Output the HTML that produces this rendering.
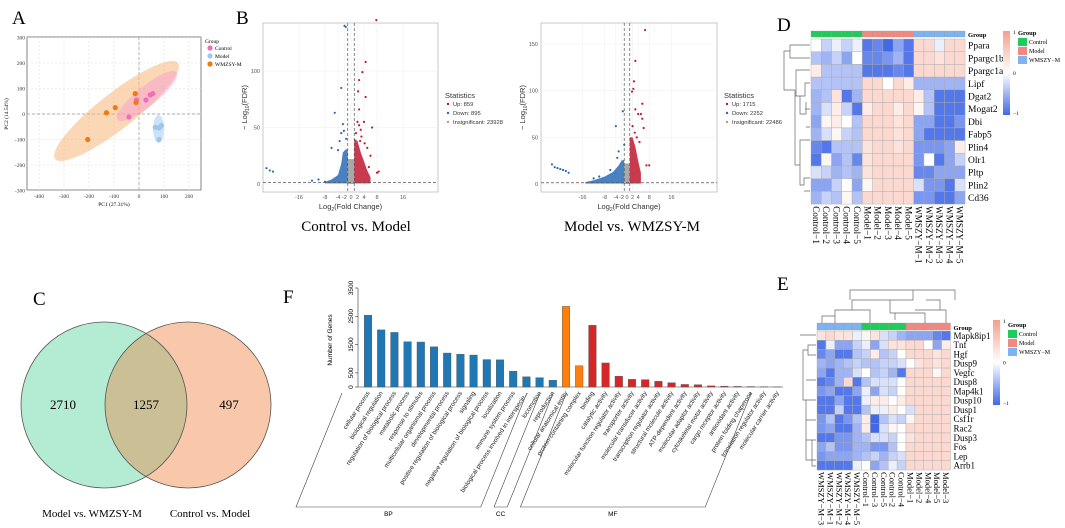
<!DOCTYPE html>
<html><head><meta charset="utf-8">
<style>
html,body{margin:0;padding:0;background:#fff;}
svg{display:block;font-family:"Liberation Sans",sans-serif;}
.serif{font-family:"Liberation Serif",serif;}
</style></head>
<body>
<svg id="fig" width="1065" height="528" viewBox="0 0 1065 528" xmlns="http://www.w3.org/2000/svg">
<defs>
<clipPath id="clipGreen"><circle cx="104" cy="405" r="83"/></clipPath>
</defs>
<text class="serif" x="12" y="24" font-size="19">A</text>
<text class="serif" x="236" y="24" font-size="19">B</text>
<text class="serif" x="777" y="31" font-size="19">D</text>
<text class="serif" x="33" y="305" font-size="19">C</text>
<text class="serif" x="283" y="303" font-size="19">F</text>
<text class="serif" x="777" y="290" font-size="19">E</text>

<g id="pca"></g>
<g id="vol1"></g>
<g id="vol2"></g>
<text class="serif" x="356" y="231" font-size="15" text-anchor="middle">Control vs. Model</text>
<text class="serif" x="632" y="231" font-size="15" text-anchor="middle">Model vs. WMZSY-M</text>

<g id="venn">
  <circle cx="104" cy="405" r="83" fill="#b3ecd3"/>
  <circle cx="188" cy="405" r="83" fill="#f9c8ab"/>
  <circle cx="188" cy="405" r="83" fill="#cbc095" clip-path="url(#clipGreen)"/>
  <circle cx="104" cy="405" r="83" fill="none" stroke="#555" stroke-width="0.8"/>
  <circle cx="188" cy="405" r="83" fill="none" stroke="#555" stroke-width="0.8"/>
  <text class="serif" x="63" y="409" font-size="13" text-anchor="middle">2710</text>
  <text class="serif" x="146" y="409" font-size="13" text-anchor="middle">1257</text>
  <text class="serif" x="229" y="409" font-size="13" text-anchor="middle">497</text>
  <text class="serif" x="92" y="517" font-size="11" text-anchor="middle">Model vs. WMZSY-M</text>
  <text class="serif" x="210" y="517" font-size="11" text-anchor="middle">Control vs. Model</text>
</g>

<g id="gobar"></g>
<g id="heatD"></g>
<g id="heatE"></g>
</svg>

<script>
const NS="http://www.w3.org/2000/svg";
function mk(parent,tag,attrs,text){const e=document.createElementNS(NS,tag);for(const k in attrs)e.setAttribute(k,attrs[k]);if(text!==undefined)e.textContent=text;parent.appendChild(e);return e;}

const pcaControlX=[-10,45,55,28,-40];
const pcaControlY=[55,75,80,55,-12];
const pcaModelX=[65,80,90,80,85];
const pcaModelY=[-52,-55,-45,-100,-50];
const pcaWmzX=[-15,-12,-95,-130,-205];
const pcaWmzY=[80,45,25,5,-100];
const pcaTicksX=[-400,-300,-200,-100,0,100,200];
const pcaTicksY=[-300,-200,-100,0,100,200,300];

const v1UpX=[7.8,4.5,3.5,2.5,2.2,4.5,2.5,4,6.5,2.5,5,6,8.5,8,3.2,2.8,5.5,3,4.2,2,1.5];
const v1UpY=[145,108,99,92,82,77,66,55,50,52,32,25,11,10,42,38,15,48,36,55,45];
const v1DownX=[-2,-1.6,-3,-5,-2.5,-3,-6,-26,-25,-24,-10,-12,-8,-4,-3.5,-2.2,-1.5];
const v1DownY=[140,139,85,63,53,45,32,14,12,11,4,3,2,30,38,47,40];
const v1CloudDownX=[-1,-1,-1.5,-2.5,-3,-4,-6,-8,-8,-1];
const v1CloudDownY=[1,30,31,28,18,8,4,2,0.5,0.5];
const v1CloudUpX=[1,1,2,3,4,5,6,6,1];
const v1CloudUpY=[1,40,38,28,20,12,6,0.5,0.5];
const v1Ticks=[-16,-8,-4,-2,0,2,4,8,16];
const v1YTicks=[0,50,100];

const v2UpX=[6.5,3,2.5,2.3,1.8,3,5.5,4,5,5.5,6,8,7,4.5,3.5,2,2.8];
const v2UpY=[165,132,110,102,99,80,86,75,75,70,60,20,20,45,50,62,55];
const v2DownX=[-1.5,-4,-3,-1,-27,-26,-25,-24,-23,-22,-21,-6,-10,-12,-3.5];
const v2DownY=[78,62,35,42,21,18,17,16,15,14,12,15,8,6,28];
const v2CloudDownX=[-1,-1,-2,-3,-5,-8,-12,-15,-15,-1];
const v2CloudDownY=[1,26,25,20,13,8,4,2,0.5,0.5];
const v2CloudUpX=[1,1,2,3,4,5,5,1];
const v2CloudUpY=[1,50,50,40,25,12,0.5,0.5];
const v2Ticks=[-16,-8,-4,-2,0,2,4,8,16];
const v2YTicks=[0,50,100,150];

const goTerms=["cellular process","biological regulation","regulation of biological process","metabolic process","response to stimulus","multicellular organismal process","developmental process","positive regulation of biological process","signaling","negative regulation of biological process","localization","immune system process","biological process involved in interspecie...","locomotion","reproduction","cellular anatomical entity","protein-containing complex","binding","catalytic activity","molecular function regulator activity","transporter activity","molecular transducer activity","transcription regulator activity","structural molecule activity","ATP-dependent activity","molecular adaptor activity","cytoskeletal motor activity","cargo receptor activity","antioxidant activity","protein folding chaperone","translation regulator activity","molecular carrier activity"];
const goCounts=[2540,2020,1930,1600,1590,1420,1200,1160,1130,970,960,560,360,330,240,2850,750,2180,850,380,270,260,200,150,90,80,40,30,20,15,10,5];
const goCategory=["BP","BP","BP","BP","BP","BP","BP","BP","BP","BP","BP","BP","BP","BP","BP","CC","CC","MF","MF","MF","MF","MF","MF","MF","MF","MF","MF","MF","MF","MF","MF","MF"];
const goYTicks=[0,500,1500,2500,3500];

const dRows=["Ppara","Ppargc1b","Ppargc1a","Lipf","Dgat2","Mogat2","Dbi","Fabp5","Plin4","Olr1","Pltp","Plin2","Cd36"];
const dCols=["Control−1","Control−2","Control−3","Control−4","Control−5","Model−1","Model−2","Model−3","Model−4","Model−5","WMSZY−M−1","WMSZY−M−2","WMSZY−M−3","WMSZY−M−4","WMSZY−M−5"];
const dGroups=["C","C","C","C","C","M","M","M","M","M","W","W","W","W","W"];
const dVals=[
[0,-0.3,-0.1,-0.3,-0.1,-0.9,-0.8,-1,-0.6,-0.9,0.4,0.4,-0.1,0.4,0.4],
[-0.4,-0.5,-0.3,-0.6,0,-0.8,-0.8,-0.7,-0.5,-0.9,0.4,0.4,0.3,0.4,0.4],
[0.2,-0.4,-0.4,-0.4,-0.4,-0.9,-0.9,-0.9,-0.8,-0.9,0.4,0.4,0.4,0.4,0.4],
[-0.4,-0.4,-0.4,-0.4,-0.4,0.4,0.4,0,0.4,0.2,-0.5,-0.5,-0.5,-0.5,-0.5],
[-0.5,-0.4,0.3,-0.9,-0.5,0.4,0.4,0.4,0.4,0.4,0.2,-0.4,-0.9,-0.9,-0.9],
[-0.5,-0.2,0.2,-0.3,-0.9,0.2,0.4,0.4,0.2,0.4,0.1,-0.4,-0.9,-0.9,-0.9],
[-0.6,0.1,0.2,0,-0.4,0.4,0.4,0.4,0.3,0.4,-0.6,-0.6,-0.9,-0.9,-0.7],
[-0.5,-0.2,0.1,-0.3,-0.4,0.4,0.4,0.4,0.3,0.4,-0.6,-0.9,-0.9,-0.9,-0.9],
[-0.8,-0.9,-0.4,-0.4,-0.4,0.3,0.4,0.4,0.3,0.4,-0.7,-0.7,-0.7,-0.6,0.2],
[-0.9,0.1,-0.6,-0.4,-0.8,0.3,0.4,0.4,0.4,0.4,-0.7,0,-0.9,-0.6,-0.3],
[-0.2,-0.3,-0.5,-0.4,-0.5,0.3,0.4,0.4,0.4,0.4,-0.8,-0.8,-0.6,-0.6,-0.6],
[-0.6,-0.6,-0.3,0,-0.6,0.1,0.4,0.4,0.4,0.4,-0.2,-0.7,-0.7,-0.9,-0.2],
[-0.5,-0.3,-0.4,0.1,-0.4,0.4,0.4,0.4,0.4,0.4,-0.7,-0.7,-0.9,-0.9,-0.6]];

const eRows=["Mapk8ip1","Tnf","Hgf","Dusp9","Vegfc","Dusp8","Map4k1","Dusp10","Dusp1","Csf1r","Rac2","Dusp3","Fos","Lep","Arrb1"];
const eCols=["WMSZY−M−3","WMSZY−M−1","WMSZY−M−2","WMSZY−M−4","WMSZY−M−5","Control−1","Control−3","Control−5","Control−2","Control−4","Model−1","Model−2","Model−4","Model−5","Model−3"];
const eGroups=["W","W","W","W","W","C","C","C","C","C","M","M","M","M","M"];
const eVals=[
[0.3,0.4,0.3,0.3,-0.1,0.1,0.3,-0.2,-0.3,-0.5,-0.6,-0.6,-0.6,-0.8,-0.9],
[-0.9,-0.1,-0.6,-0.6,-0.3,-0.1,-0.6,-0.2,0.3,0.3,0.4,0.4,0,-0.6,0.2],
[-0.8,-0.6,-0.9,-0.9,-0.4,-0.3,0.2,-0.4,-0.3,0,0.4,0.4,0.4,0.3,0.4],
[-0.5,-0.6,-0.5,-0.4,-0.3,-0.4,-0.4,-0.3,-0.3,-0.2,0,0.3,0.4,0.3,0.4],
[-0.6,-0.9,-0.5,-0.5,-0.2,0,-0.4,-0.3,-0.5,-0.9,0.4,0.4,0.4,0.1,0.4],
[-0.9,-0.8,-0.5,0.4,-0.9,-0.4,-0.2,-0.2,-0.2,0,0.4,0.4,0.4,0.4,0.4],
[-0.7,-0.6,-0.9,-0.9,-0.6,-0.1,-0.6,-0.2,-0.3,0,0.4,0.4,0.4,0.4,0.4],
[-0.9,-0.9,-0.6,-0.9,-0.9,-0.1,0.2,0.2,0,0.2,0.4,0.4,0.4,0.4,0.4],
[-0.9,-0.9,-0.3,-0.9,-0.9,-0.4,-0.1,-0.1,0.2,0,-0.2,0.4,0.4,0.4,0.4],
[-0.7,-0.4,-0.9,-0.7,-0.4,0.2,-1,-0.4,-0.2,-0.3,0.1,0.4,0.4,0.4,0.4],
[-0.7,-0.6,-0.9,-0.9,-0.5,0.2,-1,-0.2,0.1,0,0.4,0.4,0.4,0.4,0.4],
[-0.9,-0.9,-0.7,-0.7,-0.5,-0.4,-0.2,-0.2,-0.3,0,0.3,0.4,0.4,0.4,0.4],
[-0.6,-0.4,-0.7,-0.7,-0.5,-0.5,-0.7,-0.7,-0.4,0,0.4,0.4,0.4,0.4,0.4],
[-0.7,-0.6,-0.6,-0.6,-0.5,-0.4,-0.3,-0.5,-0.3,-0.2,0.4,0.4,0.4,0.4,0.4],
[-0.9,-0.9,-0.9,-0.9,-0.1,0,-0.6,-0.4,-0.1,-0.3,0.4,0.4,0.4,0.4,0.4]];

const grpColor={C:"#1fcb5a",M:"#f08a80",W:"#7fb2f0"};

(function(){
  const g=document.getElementById('pca');
  const x0=27,x1=201,y0=37,y1=190;
  const sx=v=>139+v*0.25, sy=v=>114-v*0.255;
  mk(g,'rect',{x:x0,y:y0,width:x1-x0,height:y1-y0,fill:'#fff',stroke:'#333','stroke-width':0.6});
  pcaTicksX.forEach(t=>{mk(g,'line',{x1:sx(t),x2:sx(t),y1:y0,y2:y1,stroke:'#ddd','stroke-dasharray':'2,2','stroke-width':0.6});
    mk(g,'text',{x:sx(t),y:y1+8,'font-size':5.5,'text-anchor':'middle',fill:'#333',class:'serif'},String(t));});
  pcaTicksY.forEach(t=>{mk(g,'line',{x1:x0,x2:x1,y1:sy(t),y2:sy(t),stroke:'#ddd','stroke-dasharray':'2,2','stroke-width':0.6});
    mk(g,'text',{x:x0-2,y:sy(t)+2,'font-size':5.5,'text-anchor':'end',fill:'#333',class:'serif'},String(t));});
  mk(g,'line',{x1:sx(0),x2:sx(0),y1:y0,y2:y1,stroke:'#999','stroke-dasharray':'3,2','stroke-width':0.7});
  mk(g,'line',{x1:x0,x2:x1,y1:sy(0),y2:sy(0),stroke:'#999','stroke-dasharray':'3,2','stroke-width':0.7});
  const e1=mk(g,'ellipse',{cx:116.5,cy:111,rx:78,ry:18,fill:'#f8b77a','fill-opacity':0.55,transform:'rotate(-38 116.5 111)'});
  
  const e2=mk(g,'ellipse',{cx:147,cy:96,rx:38,ry:10,fill:'#f49ad0','fill-opacity':0.45,transform:'rotate(-39 147 96)'});
  
  const e3=mk(g,'ellipse',{cx:158.5,cy:129,rx:5.5,ry:14,fill:'#a8cff5','fill-opacity':0.6});
  
  const draw=(xs,ys,col,name)=>xs.forEach((v,i)=>{const c=mk(g,'circle',{cx:sx(v),cy:sy(ys[i]),r:2.6,fill:col});
    });
  draw(pcaControlX,pcaControlY,'#f06cbc','pca-point-control');
  draw(pcaModelX,pcaModelY,'#9cc8f0','pca-point-model');
  draw(pcaWmzX,pcaWmzY,'#f07a10','pca-point-wmzsy');
  mk(g,'text',{x:114,y:206,'font-size':5.5,'text-anchor':'middle',class:'serif'},'PC1 (27.31%)');
  mk(g,'text',{x:8,y:114,'font-size':5.5,'text-anchor':'middle',class:'serif',transform:'rotate(-90 8 114)'},'PC2 (14.54%)');
  mk(g,'text',{x:205,y:43,'font-size':5.5,class:'serif'},'Group');
  [['Control','#f06cbc'],['Model','#9cc8f0'],['WMZSY-M','#f07a10']].forEach((d,i)=>{
    mk(g,'circle',{cx:210,cy:48+i*8,r:2.6,fill:d[1]});
    mk(g,'text',{x:215,y:50+i*8,'font-size':5.5,class:'serif'},d[0]);});
})();

function volcano(id,box,zeroX,kx,kyPer,xt,yt,upX,upY,dnX,dnY,cdX,cdY,cuX,cuY,stats){
  const g=document.getElementById(id);
  const [x0,y0,x1,y1]=box; const yZero=184;
  const sx=v=>zeroX+v*kx, sy=v=>yZero-v*kyPer;
  mk(g,'rect',{x:x0,y:y0,width:x1-x0,height:y1-y0,fill:'#fff',stroke:'#bbb','stroke-width':0.8});
  xt.forEach(t=>{mk(g,'line',{x1:sx(t),x2:sx(t),y1:y0,y2:y1,stroke:'#eee','stroke-width':0.5});
    mk(g,'text',{x:sx(t),y:y1+7,'font-size':5.5,'text-anchor':'middle',fill:'#555'},String(t));});
  yt.forEach(t=>{mk(g,'line',{x1:x0,x2:x1,y1:sy(t),y2:sy(t),stroke:'#eee','stroke-width':0.5});
    mk(g,'text',{x:x0-3,y:sy(t)+2,'font-size':5.5,'text-anchor':'end',fill:'#555'},String(t));});
  const poly=(xs,ys,col,op)=>mk(g,'polygon',{points:xs.map((v,i)=>sx(v)+','+sy(ys[i])).join(' '),fill:col,'fill-opacity':op});
  poly([-1,-1,1,1],[0,22,22,0],'#a0a0a0',0.9);
  poly(cdX,cdY,'#2a6bb5',0.85); poly(cuX,cuY,'#c01830',0.85);
  upX.forEach((v,i)=>{const c=mk(g,'circle',{cx:sx(v),cy:sy(upY[i]),r:1.1,fill:'#c01830'});
    });
  dnX.forEach((v,i)=>{const c=mk(g,'circle',{cx:sx(v),cy:sy(dnY[i]),r:1.1,fill:'#2a6bb5'});
    });
  [-1,1].forEach(t=>mk(g,'line',{x1:sx(t),x2:sx(t),y1:y0,y2:y1,stroke:'#555','stroke-dasharray':'3,2','stroke-width':0.7}));
  mk(g,'line',{x1:x0,x2:x1,y1:sy(1.3),y2:sy(1.3),stroke:'#555','stroke-dasharray':'3,2','stroke-width':0.7});
  const cx=(x0+x1)/2;
  const xl=mk(g,'text',{x:cx,y:y1+17,'font-size':7.5,'text-anchor':'middle',fill:'#333'});
  xl.innerHTML='Log<tspan font-size="5" dy="2">2</tspan><tspan dy="-2">(Fold Change)</tspan>';
  const yl=mk(g,'text',{x:x0-16,y:(y0+y1)/2,'font-size':7.5,'text-anchor':'middle',fill:'#333',transform:`rotate(-90 ${x0-16} ${(y0+y1)/2})`});
  yl.innerHTML='− Log<tspan font-size="5" dy="2">10</tspan><tspan dy="-2">(FDR)</tspan>';
  const lx=x1+7;
  mk(g,'text',{x:lx,y:98,'font-size':7.5,fill:'#333'},'Statistics');
  [['#c01830',stats[0]],['#2a6bb5',stats[1]],['#a0a0a0',stats[2]]].forEach((d,i)=>{
    mk(g,'circle',{cx:lx+3,cy:104+i*9,r:1.2,fill:d[0]});
    mk(g,'text',{x:lx+8,y:106+i*9,'font-size':5.8,fill:'#333'},d[1]);});
}
volcano('vol1',[263,23,438,192],351,3.25,1.13,v1Ticks,v1YTicks,v1UpX,v1UpY,v1DownX,v1DownY,v1CloudDownX,v1CloudDownY,v1CloudUpX,v1CloudUpY,['Up: 859','Down: 895','Insignificant: 23928']);
volcano('vol2',[541,23,717,192],627,2.78,0.933,v2Ticks,v2YTicks,v2UpX,v2UpY,v2DownX,v2DownY,v2CloudDownX,v2CloudDownY,v2CloudUpX,v2CloudUpY,['Up: 1715','Down: 2252','Insignificant: 22486']);

(function(){
  const g=document.getElementById('gobar');
  const axX=358, base=387, k=(387-288)/3500, first=368, step=13.2;
  const sy=v=>base-v*k, sx=i=>first+i*step;
  const colors={BP:'#1f77b4',CC:'#ff7f0e',MF:'#d62728'};
  mk(g,'line',{x1:axX,x2:axX,y1:sy(0),y2:sy(3500),stroke:'#333','stroke-width':0.6});
  goYTicks.forEach(t=>{mk(g,'line',{x1:axX-3,x2:axX,y1:sy(t),y2:sy(t),stroke:'#333','stroke-width':0.6});
    mk(g,'text',{x:axX-5,y:sy(t),'font-size':6.5,'text-anchor':'middle',transform:`rotate(-90 ${axX-5} ${sy(t)})`},String(t));});
  mk(g,'text',{x:332,y:340,'font-size':6.5,'text-anchor':'middle',transform:'rotate(-90 332 340)'},'Number of Genes');
  mk(g,'line',{x1:axX,x2:sx(goCounts.length-1)+6,y1:base,y2:base,stroke:'#333','stroke-width':0.6});
  goCounts.forEach((v,i)=>{
    const b=mk(g,'rect',{x:sx(i)-3.8,y:sy(v),width:7.6,height:base-sy(v),fill:colors[goCategory[i]],stroke:'#555','stroke-width':0.4});
    
    mk(g,'text',{x:sx(i)+2,y:base+6,'font-size':6.3,'text-anchor':'end',fill:'#222',transform:`rotate(-57 ${sx(i)+2} ${base+6})`},goTerms[i]);
  });
  const grp=(a,b,lbl)=>{
    const fA=sx(a)-26, fB=sx(b)-26;
    const bx0=fA-46, bx1=fB-46;
    mk(g,'polyline',{points:`${fA},${base+6} ${bx0},507 ${bx1},507 ${fB},${base+6}`,fill:'none',stroke:'#444','stroke-width':0.6});
    mk(g,'text',{x:(bx0+bx1)/2,y:516,'font-size':6.5,'text-anchor':'middle'},lbl);
  };
  grp(0,14,'BP'); grp(15,16,'CC'); grp(17,31,'MF');
})();

function heatColor(v){
  const c0=[65,105,230],c1=[255,255,255],c2=[244,160,138];
  const t=Math.max(-1,Math.min(1,v));
  const a=t<0?c0:c2, w=Math.abs(t);
  return 'rgb('+[0,1,2].map(j=>Math.round(c1[j]+(a[j]-c1[j])*w)).join(',')+')';
}
function heatmap(id,rows,cols,groups,vals,X0,Y0,cw,ch,gbY,gbH,fs,cfs,lgX,lgY,lgH,glX,glY){
  const g=document.getElementById(id);
  groups.forEach((gr,j)=>mk(g,'rect',{x:X0+j*cw,y:gbY,width:cw,height:gbH,fill:grpColor[gr],stroke:'#999','stroke-width':0.3}));
  mk(g,'text',{x:X0+cols.length*cw+3,y:gbY+gbH,'font-size':6.5,'font-weight':'bold',class:'serif'},'Group');
  vals.forEach((row,i)=>row.forEach((v,j)=>{
    const r=mk(g,'rect',{x:X0+j*cw,y:Y0+i*ch,width:cw,height:ch,fill:heatColor(v),stroke:'#aaa','stroke-width':0.4});
    
  }));
  rows.forEach((r,i)=>mk(g,'text',{x:X0+cols.length*cw+3,y:Y0+i*ch+ch/2+fs*0.35,'font-size':fs,class:'serif'},r));
  cols.forEach((c,j)=>{const x=X0+j*cw+cw/2-cfs*0.35,y=Y0+rows.length*ch+2;
    mk(g,'text',{x:x,y:y,'font-size':cfs,class:'serif',transform:`rotate(90 ${x} ${y})`},c);});
  const grad='lg'+id; const defs=mk(g,'defs',{}); const lgr=mk(defs,'linearGradient',{id:grad,x1:0,y1:0,x2:0,y2:1});
  mk(lgr,'stop',{offset:'0','stop-color':heatColor(1)});mk(lgr,'stop',{offset:'0.5','stop-color':'#fff'});mk(lgr,'stop',{offset:'1','stop-color':heatColor(-1)});
  mk(g,'rect',{x:lgX,y:lgY,width:7,height:lgH,fill:`url(#${grad})`});
  mk(g,'text',{x:lgX+10,y:lgY+3,'font-size':5.5,class:'serif'},'1');
  mk(g,'text',{x:lgX+10,y:lgY+lgH/2+2,'font-size':5.5,class:'serif'},'0');
  mk(g,'text',{x:lgX+10,y:lgY+lgH,'font-size':5.5,class:'serif'},'−1');
  mk(g,'text',{x:glX,y:glY,'font-size':6.5,'font-weight':'bold',class:'serif'},'Group');
  [['Control','C'],['Model','M'],['WMSZY−M','W']].forEach((d,i)=>{
    mk(g,'rect',{x:glX,y:glY+3+i*9,width:9,height:8,fill:grpColor[d[1]]});
    mk(g,'text',{x:glX+11,y:glY+9+i*9,'font-size':6,class:'serif'},d[0]);});
}
heatmap('heatD',dRows,dCols,dGroups,dVals,811,39,10.27,12.7,31,6,9.5,9.2,1003,31,84,1018,35);
heatmap('heatE',eRows,eCols,eGroups,eVals,817,331,8.9,9.27,323,7,9,8.5,993,320,85,1008,327);

(function(){
  const gd=document.getElementById('heatD');
  mk(gd,'path',{d:"M810,45 H790 V58 H810 M790,51 H784 V90 H795 M810,70 H796 V96 M795,90 V165 M795,96 H805 V83 H810 M805,109 H810 M800,96 V114 H806 V102 M806,127 H810 M795,165 H800 V140 H810 M800,165 V185 H804 V178 H810 M804,191 H810",fill:'none',stroke:'#666','stroke-width':0.7});
  const ge=document.getElementById('heatE');
  mk(ge,'path',{d:"M816,335 H800 M816,345 H808 V355 H816 M808,350 H803 V400 H816 M803,400 H806 V460 H816 M806,380 H816 M806,420 H816 M806,440 H816 M812,440 V466 H816",fill:'none',stroke:'#666','stroke-width':0.7});
  mk(ge,'path',{d:"M835,323 V310 H870 V323 M822,323 V316 H835 M852,310 V300 H913 V290 H850 V300 M913,290 H955 V300 M890,300 V313 H925 V323 M895,313 V320 M926,300 H940 V310 M915,310 H946 V323",fill:'none',stroke:'#666','stroke-width':0.7});
})();
</script>
</body></html>
